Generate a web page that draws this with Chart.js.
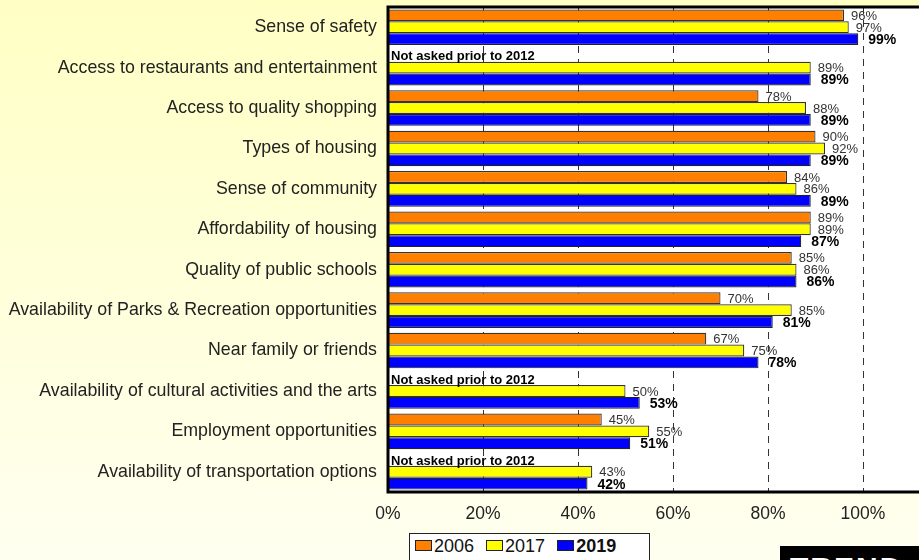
<!DOCTYPE html>
<html>
<head>
<meta charset="utf-8">
<script src="https://cdn.jsdelivr.net/npm/chart.js"></script>
<style>
  html, body { margin: 0; padding: 0; }
  body {
    width: 919px; height: 560px; overflow: hidden; position: relative;
    background: linear-gradient(to bottom, #ffffc4 0%, #fffff0 100%);
    font-family: Arial, "Liberation Sans", sans-serif;
  }
  #wrap { position: absolute; left: 0; top: 0; width: 958px; height: 560px; }
  #legend {
    position: absolute; left: 409px; top: 533px; width: 241px; height: 30px;
    border: 1px solid #222; background: #fff; box-sizing: border-box;
    font-size: 18px; color: #111; padding: 2px 0 0 5px; white-space: nowrap;
  }
  #legend span.sw {
    display: inline-block; width: 15px; height: 9px; border: 1px solid #222;
    vertical-align: 1px; margin-right: 2px;
  }
  #legend span.it { margin-right: 7px; }
  #logo {
    position: absolute; left: 780px; top: 546px; width: 200px; height: 40px;
    background: #000; color: #fff; font-weight: bold; font-size: 30px; line-height: 1;
    padding: 7px 0 0 10px; box-sizing: border-box; letter-spacing: 2px;
  }
</style>
</head>
<body>
<div id="wrap"><canvas id="myChart" width="958" height="560"></canvas></div>
<div id="legend">
  <span class="it"><span class="sw" style="background:#ff8000"></span>2006</span>
  <span class="it"><span class="sw" style="background:#ffff00"></span>2017</span>
  <span class="it"><span class="sw" style="background:#0000ff"></span><b>2019</b></span>
</div>
<div id="logo">TREND</div>
<script>
const categories = [
  "Sense of safety",
  "Access to restaurants and entertainment",
  "Access to quality shopping",
  "Types of housing",
  "Sense of community",
  "Affordability of housing",
  "Quality of public schools",
  "Availability of Parks & Recreation opportunities",
  "Near family or friends",
  "Availability of cultural activities and the arts",
  "Employment opportunities",
  "Availability of transportation options"
];
const values2006 = [96, null, 78, 90, 84, 89, 85, 70, 67, null, 45, null];
const values2017 = [97, 89, 88, 92, 86, 89, 86, 85, 75, 50, 55, 43];
const values2019 = [99, 89, 89, 89, 89, 87, 86, 81, 78, 53, 51, 42];
const xTicks = [0, 20, 40, 60, 80, 100];
const notAskedText = "Not asked prior to 2012";

const FONT = 'Arial, "Liberation Sans", sans-serif';

// white plot area + black frame
const framePlugin = {
  id: "frame",
  beforeDraw(chart) {
    const a = chart.chartArea, ctx = chart.ctx;
    ctx.save();
    ctx.fillStyle = "#fff";
    ctx.fillRect(a.left, a.top, a.right - a.left, a.bottom - a.top);
    ctx.restore();
  },
  afterDraw(chart) {
    const a = chart.chartArea, ctx = chart.ctx;
    ctx.save();
    ctx.strokeStyle = "#000";
    ctx.lineWidth = 3;
    ctx.strokeRect(a.left, a.top, a.right - a.left, a.bottom - a.top);
    ctx.restore();
  }
};

// value labels and "not asked" notes
const labelPlugin = {
  id: "labels",
  afterDatasetsDraw(chart) {
    const ctx = chart.ctx;
    ctx.save();
    ctx.textBaseline = "middle";
    ctx.textAlign = "left";
    chart.data.datasets.forEach(function(ds, di) {
      const meta = chart.getDatasetMeta(di);
      meta.data.forEach(function(bar, i) {
        const v = ds.data[i];
        if (v == null) return;
        if (di === 2) {
          ctx.font = "bold 14px " + FONT;
          ctx.fillStyle = "#000";
          ctx.fillText(v + "%", bar.x + 10, bar.y + 1);
        } else {
          ctx.font = "13px " + FONT;
          ctx.fillStyle = "#333";
          ctx.fillText(v + "%", bar.x + 7, bar.y + 1);
        }
      });
    });
    const m1 = chart.getDatasetMeta(1);
    ctx.font = "bold 13px " + FONT;
    ctx.fillStyle = "#000";
    values2006.forEach(function(v, i) {
      if (v != null) return;
      const b = m1.data[i];
      ctx.fillText(notAskedText, chart.chartArea.left + 3, b.y - b.height + 1);
    });
    ctx.restore();
  }
};

new Chart("myChart", {
  type: "bar",
  data: {
    labels: categories,
    datasets: [{
      label: "2006",
      data: values2006,
      backgroundColor: "#ff8000",
      borderColor: "#333",
      borderWidth: 1.2
    }, {
      label: "2017",
      data: values2017,
      backgroundColor: "#ffff00",
      borderColor: "#333",
      borderWidth: 1.2
    }, {
      label: "2019",
      data: values2019,
      backgroundColor: "#0000ff",
      borderColor: "#222",
      borderWidth: 1.2
    }]
  },
  options: {
    indexAxis: "y",
    responsive: false,
    animation: false,
    layout: { padding: { top: 7, left: 0, right: 0, bottom: 0 } },
    datasets: { bar: { categoryPercentage: 0.88, barPercentage: 1.0 } },
    plugins: {
      legend: { display: false },
      tooltip: { enabled: false }
    },
    scales: {
      x: {
        min: 0,
        max: 120,
        afterBuildTicks(scale) {
          scale.ticks = xTicks.concat([120]).map(function(v) { return { value: v }; });
        },
        afterFit(scale) {
          scale.height = 68;
          scale.paddingLeft = 0;
          scale.paddingRight = 0;
        },
        ticks: {
          padding: 12,
          color: "#222",
          font: { size: 17.5, family: FONT },
          callback: function(v) { return v <= 100 ? v + "%" : ""; }
        },
        grid: {
          color: "#333",
          lineWidth: 1,
          drawTicks: false
        },
        border: { display: false, dash: [7, 6] }
      },
      y: {
        afterFit(scale) {
          scale.width = 388;
          scale.paddingTop = 0;
          scale.paddingBottom = 0;
        },
        ticks: {
          padding: 11,
          color: "#222",
          font: { size: 17.8, family: FONT }
        },
        grid: { display: false, drawTicks: false },
        border: { display: false }
      }
    }
  },
  plugins: [framePlugin, labelPlugin]
});
</script>
</body>
</html>
